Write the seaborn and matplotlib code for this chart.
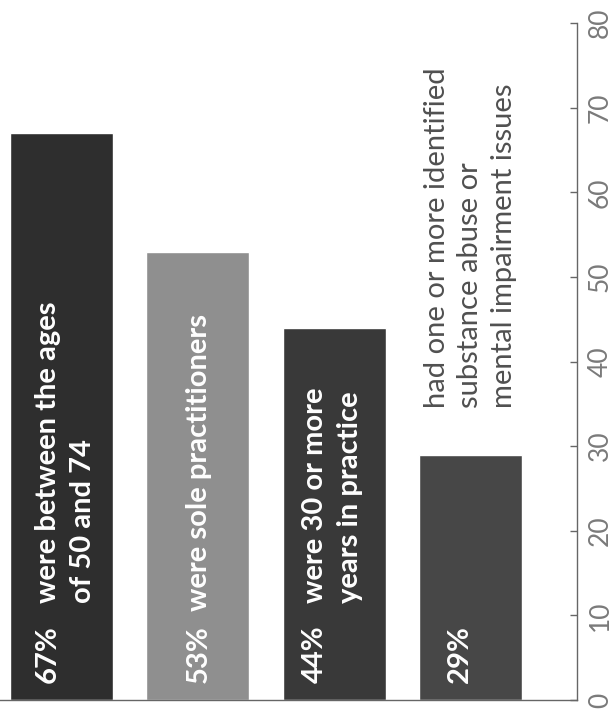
import matplotlib
matplotlib.use("Agg")
import matplotlib.pyplot as plt
import seaborn as sns
import pandas as pd

# Data
categories = ["ages 50-74", "sole practitioners", "30+ years", "impairment issues"]
values = [67, 53, 44, 29]
pct_labels = ["67%", "53%", "44%", "29%"]
bar_texts = ["were between the ages\nof 50 and 74",
             "were sole practitioners",
             "were 30 or more\nyears in practice",
             ""]
side_note = "had one or more identified\nsubstance abuse or\nmental impairment issues"
bar_colors = ["#2e2e2e", "#8f8f8f", "#393939", "#474747"]
y_ticks = [0, 10, 20, 30, 40, 50, 60, 70, 80]

# horizontal offset of the first text line inside each bar, and where the text starts
first_line_dx = [-0.10, 0.01, -0.14, -0.08]
text_start = [11.5, 10.5, 11.5, 0]
line_step = 0.26

sns.set_theme(style="white")
plt.rcParams["font.family"] = ["Lato", "DejaVu Sans"]

df = pd.DataFrame({"cat": categories, "val": values})

fig = plt.figure(figsize=(6.15, 7.11), dpi=100)
ax = fig.add_axes([0.0, 0.0155, 0.938, 0.952])

sns.barplot(data=df, x="cat", y="val", hue="cat", palette=bar_colors,
            width=0.755, saturation=1, legend=False, ax=ax)

ax.set_xlim(-0.45, 3.78)
ax.set_ylim(0, 80)
ax.set_xlabel("")
ax.set_ylabel("")
ax.set_xticks([])

# value axis on the right, labels read bottom-to-top
ax.yaxis.tick_right()
ax.set_yticks(y_ticks)
ax.set_yticklabels([str(t) for t in y_ticks], rotation=90, va="center",
                   fontsize=19, fontweight="normal", color="#7a7a7a")
ax.tick_params(axis="y", direction="in", length=5, width=1, color="#666666", pad=8)
for side in ["left", "top"]:
    ax.spines[side].set_visible(False)
for side in ["right", "bottom"]:
    ax.spines[side].set_color("#666666")
    ax.spines[side].set_linewidth(1)

# labels inside the bars: percentage, then the description lines
for i, (p, t) in enumerate(zip(pct_labels, bar_texts)):
    x0 = i + first_line_dx[i]
    ax.text(x0, 2.0, p, rotation=90, ha="center", va="bottom",
            fontsize=21, fontweight="bold", color="white")
    if t:
        for k, line in enumerate(t.split("\n")):
            ax.text(x0 + k * line_step, text_start[i], line, rotation=90,
                    ha="center", va="bottom",
                    fontsize=21, fontweight="bold", color="white")

# note above the last bar
ax.text(3.0, 34.5, side_note, rotation=90, ha="center", va="bottom",
        multialignment="left", linespacing=1.37,
        fontsize=21, fontweight="normal", color="#505050")

fig.savefig("out.png", dpi=100)
